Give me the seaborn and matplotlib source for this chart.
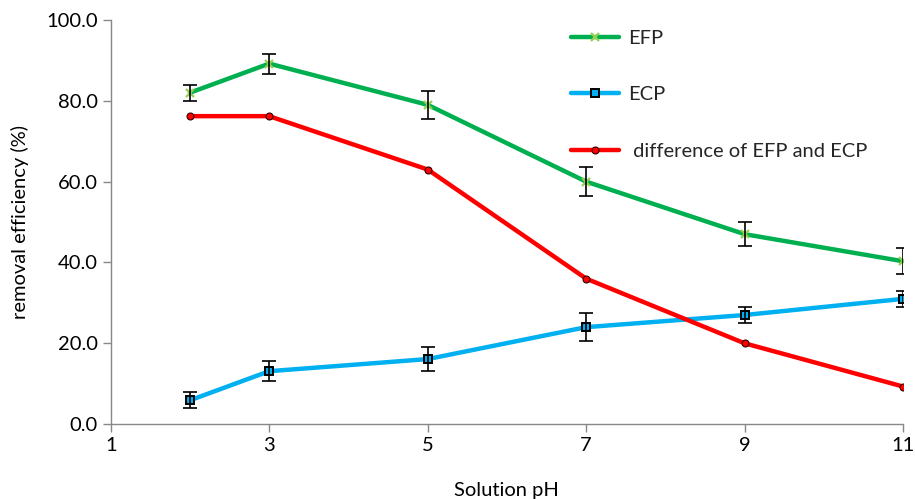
import matplotlib
matplotlib.use("Agg")
import matplotlib.pyplot as plt
import seaborn as sns
import pandas as pd

ph = [2, 3, 5, 7, 9, 11]
efp = [82.0, 89.2, 79.0, 60.0, 47.0, 40.3]
efp_err = [2.0, 2.5, 3.5, 3.5, 3.0, 3.2]
ecp = [5.9, 13.1, 16.1, 24.0, 27.0, 31.0]
ecp_err = [2.0, 2.5, 3.0, 3.5, 2.0, 2.0]
diff = [76.2, 76.2, 63.0, 36.0, 20.0, 9.3]
x_ticks = [1, 3, 5, 7, 9, 11]
y_ticks = [0, 20, 40, 60, 80, 100]

sns.set_theme(style="white")
plt.rcParams['font.family'] = ['Lato', 'DejaVu Sans']

fig = plt.figure(figsize=(9.15, 4.99), dpi=100)
ax = fig.add_axes([0.121, 0.150, 0.866, 0.810])

df = pd.DataFrame({"pH": ph, "EFP": efp, "ECP": ecp, "diff": diff})

sns.lineplot(data=df, x="pH", y="EFP", ax=ax, color="#00B050", lw=3.2,
             marker="x", markersize=6, markeredgecolor="#92D050", markeredgewidth=1.6,
             label="EFP", zorder=3)
sns.lineplot(data=df, x="pH", y="ECP", ax=ax, color="#00B0F0", lw=3.2,
             marker="s", markersize=6, markerfacecolor="#00B0F0", markeredgecolor="black",
             markeredgewidth=1.4, label="ECP", zorder=3)
sns.lineplot(data=df, x="pH", y="diff", ax=ax, color="#FF0000", lw=3.2,
             marker="o", markersize=5, markerfacecolor="#FF0000", markeredgecolor="#300000",
             markeredgewidth=0.8, label=" difference of EFP and ECP", zorder=3)

ax.errorbar(ph, efp, yerr=efp_err, fmt="none", ecolor="black", elinewidth=1.2, capsize=5, capthick=1.2, zorder=4)
ax.errorbar(ph, ecp, yerr=ecp_err, fmt="none", ecolor="black", elinewidth=1.2, capsize=5, capthick=1.2, zorder=4)

ax.set_xlim(1, 11)
ax.set_ylim(0, 100)
ax.set_xticks(x_ticks)
ax.set_xticklabels([str(v) for v in x_ticks])
ax.set_yticks(y_ticks)
ax.set_yticklabels([f"{v:.1f}" for v in y_ticks])
ax.set_xlabel("Solution pH", fontsize=14.5, labelpad=20, color="black")
ax.set_ylabel("removal efficiency (%)", fontsize=14.5, labelpad=12, color="black")
ax.tick_params(axis="both", labelsize=14.5, labelcolor="black", length=6, width=1, color="#888888", direction="out", bottom=True, left=True)
for s in ["top", "right"]:
    ax.spines[s].set_visible(False)
for s in ["left", "bottom"]:
    ax.spines[s].set_color("#888888")
    ax.spines[s].set_linewidth(1)

leg = ax.legend(loc="upper left", bbox_to_anchor=(0.558, 1.02), frameon=False, fontsize=14.5,
                handlelength=2.4, labelspacing=1.95, handletextpad=0.45)

fig.savefig("out.png", dpi=100)
